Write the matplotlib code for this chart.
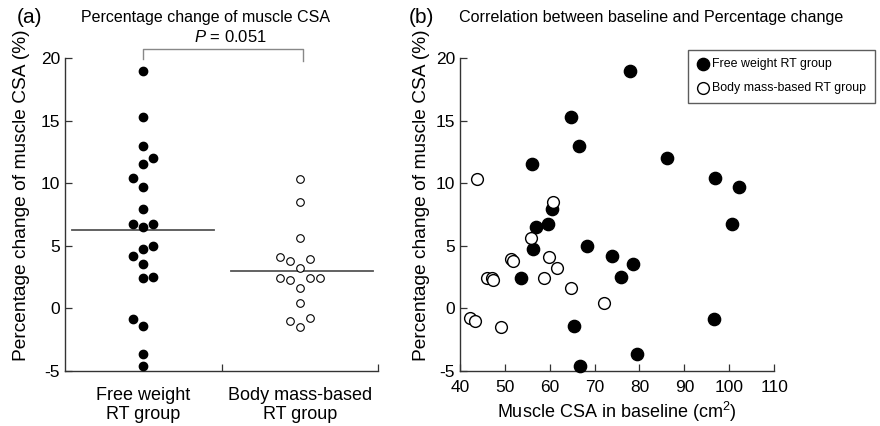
import matplotlib
matplotlib.use("Agg")
import matplotlib.pyplot as plt

plt.rcParams['font.family'] = ['Liberation Sans', 'DejaVu Sans']
plt.rcParams['axes.unicode_minus'] = False
plt.rcParams['mathtext.fontset'] = 'custom'
plt.rcParams['mathtext.rm'] = 'Liberation Sans'
plt.rcParams['mathtext.it'] = 'Liberation Sans:italic'

# data
groups = ['Free weight\nRT group', 'Body mass-based\nRT group']

# free weight RT group: % change, baseline CSA (cm2), swarm slot in panel (a)
free_change = [19.0, 15.3, 13.0, 12.0, 11.5, 10.4, 9.7, 7.95, 6.7, 6.7, 6.5,
               5.0, 4.7, 4.15, 3.55, 2.45, 2.5, -0.9, -1.4, -3.7, -4.65]
free_base = [77.9, 64.8, 66.6, 86.2, 56.1, 96.9, 102.2, 60.5, 59.7, 100.6, 57.0,
             68.4, 56.2, 73.9, 78.5, 53.7, 75.9, 96.5, 65.3, 79.4, 66.7]
free_slot = [0, 0, 0, 1, 0, -1, 0, 0, -1, 1, 0,
             1, 0, -1, 0, 0, 1, -1, 0, 0, 0]

# body mass-based RT group
body_change = [10.3, 8.5, 5.6, 4.1, 3.95, 3.75, 3.25, 2.45, 2.4, 2.45, 2.25,
               1.65, 0.4, -0.8, -1.05, -1.5]
body_base = [43.9, 60.7, 55.9, 59.9, 51.3, 51.8, 61.6, 58.7, 46.1, 47.2, 47.3,
             64.7, 72.2, 42.3, 43.3, 49.2]
body_slot = [0, 0, 0, -2, 1, -1, 0, -2, 1, 2, -1,
             0, 0, 1, -1, 0]

p_text = r'$P$ = 0.051'

fig = plt.figure(figsize=(8.8, 4.26), dpi=100)
ax1 = fig.add_axes([0.0739, 0.1298, 0.3557, 0.734])
ax2 = fig.add_axes([0.5227, 0.1298, 0.357, 0.734])

axis_col = '#333333'
for ax in (ax1, ax2):
    ax.spines['top'].set_visible(False)
    ax.spines['right'].set_visible(False)
    for s in ('left', 'bottom'):
        ax.spines[s].set_color(axis_col)
        ax.spines[s].set_linewidth(1.0)
    ax.tick_params(direction='in', length=5, width=0.9, color=axis_col,
                   labelsize=12.5)
    ax.set_ylim(-5, 20)
    ax.set_yticks([-5, 0, 5, 10, 15, 20])
    ax.set_ylabel('Percentage change of muscle CSA (%)', fontsize=13.8)

# ---- panel (a)
step = 0.063
centers = [0.5, 1.5]
fx = [centers[0] + s * step for s in free_slot]
bx = [centers[1] + s * step for s in body_slot]
ax1.scatter(fx, free_change, s=36, color='black', zorder=3, clip_on=False)
ax1.scatter(bx, body_change, s=30, facecolor='white', edgecolor='black',
            linewidth=0.8, zorder=3, clip_on=False)

free_mean = sum(free_change) / len(free_change)
body_mean = sum(body_change) / len(body_change)
ax1.plot([centers[0] - 0.457, centers[0] + 0.452], [free_mean, free_mean],
         color='#555555', lw=1.3)
ax1.plot([centers[1] - 0.441, centers[1] + 0.466], [body_mean, body_mean],
         color='#555555', lw=1.3)

ax1.set_xlim(0, 2)
ax1.set_xticks([1, 2])
ax1.set_xticklabels([])
ax1.set_xticks(centers, minor=True)
ax1.set_xticklabels(groups, minor=True, fontsize=13, linespacing=1.15)
ax1.tick_params(axis='x', which='minor', length=0, pad=12)
ax1.yaxis.set_label_coords(-0.112, 0.562)

# bracket and p value
ax1.plot([0.5, 0.5, 1.52, 1.52], [19.9, 20.72, 20.72, 19.8], color='#888888',
         lw=1.0, clip_on=False)
ax1.text(1.054, 21.7, p_text, ha='center', va='center', fontsize=12)

ax1.set_title('Percentage change of muscle CSA', fontsize=11.5, x=0.45, y=1.09)
fig.text(0.033, 0.96, '(a)', fontsize=15, ha='center', va='center')

# ---- panel (b)
ax2.scatter(free_base, free_change, s=78, color='black', zorder=3,
            clip_on=False, label='Free weight RT group')
ax2.scatter(body_base, body_change, s=72, facecolor='white', edgecolor='black',
            linewidth=1.0, zorder=3, clip_on=False,
            label='Body mass-based RT group')
ax2.set_xlim(40, 110)
ax2.set_xticks(range(40, 111, 10))
ax2.tick_params(axis='x', pad=7)
ax2.set_xlabel('Muscle CSA in baseline (cm$^2$)', fontsize=13, labelpad=3)
ax2.yaxis.set_label_coords(-0.096, 0.562)

leg = ax2.legend(loc='upper right', bbox_to_anchor=(0.994, 0.883),
                 bbox_transform=fig.transFigure, fontsize=8.9, frameon=True,
                 fancybox=False, handletextpad=0.25, handlelength=1.0,
                 borderpad=0.7, labelspacing=0.95, borderaxespad=0)
leg.get_frame().set_edgecolor('#333333')
leg.get_frame().set_linewidth(1.0)

fig.text(0.522, 0.96, 'Correlation between baseline and Percentage change',
         fontsize=11.6, ha='left', va='center')
fig.text(0.479, 0.96, '(b)', fontsize=15, ha='center', va='center')

fig.savefig('out.png', dpi=100)
